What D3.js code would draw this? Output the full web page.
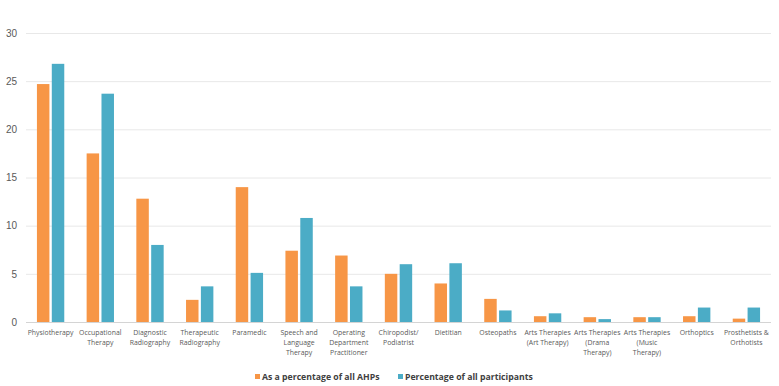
<!DOCTYPE html>
<html>
<head>
<meta charset="utf-8">
<script src="https://cdn.jsdelivr.net/npm/d3@7"></script>
<style>
  body { margin: 0; background: #fff; }
  svg { font-family: "Open Sans", "Noto Sans", sans-serif; }
</style>
</head>
<body>
<div id="chart"></div>
<script>
// Category labels (line breaks as drawn)
const categories = [
  ['Physiotherapy'],
  ['Occupational', 'Therapy'],
  ['Diagnostic', 'Radiography'],
  ['Therapeutic', 'Radiography'],
  ['Paramedic'],
  ['Speech and', 'Language', 'Therapy'],
  ['Operating', 'Department', 'Practitioner'],
  ['Chiropodist/', 'Podiatrist'],
  ['Dietitian'],
  ['Osteopaths'],
  ['Arts Therapies', '(Art Therapy)'],
  ['Arts Therapies', '(Drama', 'Therapy)'],
  ['Arts Therapies', '(Music', 'Therapy)'],
  ['Orthoptics'],
  ['Prosthetists &', 'Orthotists']
];
const seriesNames = ['As a percentage of all AHPs', 'Percentage of all participants'];
const pctAHPs = [24.7, 17.5, 12.8, 2.3, 14.0, 7.4, 6.9, 5.0, 4.0, 2.4, 0.6, 0.5, 0.5, 0.6, 0.35];
const pctParticipants = [26.8, 23.7, 8.0, 3.7, 5.1, 10.8, 3.7, 6.0, 6.1, 1.2, 0.9, 0.3, 0.5, 1.5, 1.5];
const yTicks = [0, 5, 10, 15, 20, 25, 30];
const colors = ['#F79646', '#4BACC6'];

const width = 779, height = 386;
const margin = { top: 33, right: 8, bottom: 64, left: 26 };

const svg = d3.select('#chart').append('svg')
  .attr('width', width)
  .attr('height', height);

const keys = categories.map((c, i) => i);

const x0 = d3.scaleBand()
  .domain(keys)
  .range([margin.left, width - margin.right])
  .paddingInner(0.45)
  .paddingOuter(0.22);

const x1 = d3.scaleBand()
  .domain([0, 1])
  .range([0, x0.bandwidth()])
  .paddingInner(0.16);

const y = d3.scaleLinear()
  .domain([0, 30])
  .range([height - margin.bottom, margin.top]);

// Gridlines
svg.append('g')
  .selectAll('line')
  .data(yTicks)
  .enter()
  .append('line')
  .attr('x1', margin.left)
  .attr('x2', width - margin.right)
  .attr('y1', d => y(d) + 0.5)
  .attr('y2', d => y(d) + 0.5)
  .attr('stroke', d => d === 0 ? '#d4d4d4' : '#e8e8e8')
  .attr('stroke-width', 1);

// Y axis tick labels
const yAxis = d3.axisLeft(y).tickValues(yTicks).tickSize(0).tickPadding(9);
svg.append('g')
  .attr('transform', `translate(${margin.left},0)`)
  .call(yAxis)
  .call(g => g.select('.domain').remove())
  .call(g => g.selectAll('text')
    .attr('fill', '#595959')
    .style('font-size', '10px'));

// Bars
const series = [pctAHPs, pctParticipants];
const group = svg.append('g')
  .selectAll('g')
  .data(keys)
  .enter()
  .append('g')
  .attr('transform', d => `translate(${x0(d)},0)`);

group.selectAll('rect')
  .data(i => series.map((s, j) => ({ j, v: s[i] })))
  .enter()
  .append('rect')
  .attr('x', d => x1(d.j))
  .attr('width', x1.bandwidth())
  .attr('y', d => y(d.v))
  .attr('height', d => y(0) - y(d.v))
  .attr('fill', d => colors[d.j]);

// Category labels
const labels = svg.append('g')
  .selectAll('text')
  .data(keys)
  .enter()
  .append('text')
  .attr('x', d => x0(d) + x0.bandwidth() / 2)
  .attr('y', y(0) + 13)
  .attr('text-anchor', 'middle')
  .attr('fill', '#595959')
  .style('font-size', '6.9px');

labels.selectAll('tspan')
  .data(d => categories[d].map(t => ({ t, c: d })))
  .enter()
  .append('tspan')
  .attr('x', d => x0(d.c) + x0.bandwidth() / 2)
  .attr('dy', (d, i) => i === 0 ? 0 : 10)
  .text(d => d.t);

// Legend
const legend = svg.append('g')
  .attr('transform', 'translate(255,380)');

const legendX = [0, 143];
seriesNames.forEach((name, i) => {
  const item = legend.append('g').attr('transform', `translate(${legendX[i]},0)`);
  item.append('rect')
    .attr('x', 0)
    .attr('y', -6)
    .attr('width', 5)
    .attr('height', 5)
    .attr('fill', colors[i]);
  item.append('text')
    .attr('x', 7)
    .attr('y', 0)
    .attr('fill', '#404040')
    .style('font-size', '8.7px')
    .style('font-weight', 'bold')
    .text(name);
});
</script>
</body>
</html>
